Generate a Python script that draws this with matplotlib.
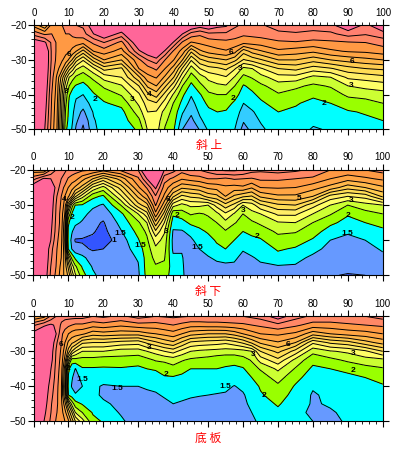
import matplotlib

matplotlib.use("Agg")

import numpy as np
from matplotlib import pyplot as plt
from matplotlib.colors import ListedColormap, BoundaryNorm

plt.rcParams["font.family"] = ["Liberation Sans", "Noto Sans CJK SC", "DejaVu Sans"]

W, H = 393, 449

stations = [0, 3, 5, 6.5, 8, 9, 10, 11, 12, 14, 17, 20, 25, 30, 32.5, 35, 37.5, 40, 42.5, 45, 47.5, 50, 52.5, 55,
            57.5, 60, 62.5, 65, 70, 75, 80, 85, 90, 95, 100]
depths = [-20, -22.5, -25, -27.5, -30, -32.5, -35, -37.5, -40, -42.5, -45, -47.5, -50]
levels = [0.5, 1, 1.5, 2, 2.5, 3, 3.5, 4, 4.5, 5, 5.5, 6, 6.5, 7, 7.5]
upper_colors = ["#00FFFF", "#99FF00", "#CCFF33", "#FFFF66", "#FFEE66", "#FFDD55", "#FFCC50",
                "#FFB84A", "#FFA544", "#FF9944", "#FF8866", "#FF8070", "#FF6699"]

# one line per station, upper to lower depth
upper_z = [
    [5.8, 6.8, 7.9, 8.5, 8.6, 8.7, 8.8, 8.8, 8.8, 8.8, 8.8, 8.8, 8.8],
    [5.0, 6.4, 7.6, 8.2, 8.2, 8.2, 8.1, 8.0, 7.9, 7.8, 7.7, 7.6, 7.5],
    [6.2, 6.5, 6.9, 6.9, 6.9, 6.8, 6.7, 6.6, 6.5, 6.45, 6.4, 6.35, 6.3],
    [6.35, 6.4, 6.4, 6.4, 6.35, 6.2, 5.9, 5.8, 5.75, 5.65, 5.6, 5.55, 5.5],
    [6.5, 6.45, 6.3, 6.2, 6.05, 5.6, 4.7, 4.3, 4.0, 3.9, 3.8, 3.7, 3.6],
    [6.7, 6.5, 6.3, 6.15, 5.8, 4.9, 3.8, 3.2, 2.8, 2.6, 2.4, 2.3, 2.1],
    [6.9, 6.5, 6.3, 6.05, 5.4, 4.2, 3.0, 2.5, 2.05, 1.9, 1.85, 1.8, 1.75],
    [6.9, 6.6, 6.3, 5.8, 4.9, 3.7, 2.7, 2.1, 1.8, 1.7, 1.6, 1.5, 1.4],
    [7.0, 6.7, 6.25, 5.5, 4.2, 3.1, 2.4, 1.95, 1.6, 1.4, 1.2, 1.1, 0.9],
    [7.1, 6.8, 6.15, 4.8, 3.55, 2.75, 2.2, 1.85, 1.5, 1.2, 0.9, 0.6, 0.4],
    [7.9, 7.5, 6.6, 6.0, 4.7, 3.4, 2.65, 2.2, 1.95, 1.75, 1.55, 1.45, 1.4],
    [8.9, 8.0, 7.0, 6.25, 5.5, 4.2, 3.2, 2.6, 2.2, 1.95, 1.85, 1.75, 1.7],
    [8.3, 7.3, 6.35, 5.8, 5.0, 3.9, 3.5, 2.95, 2.55, 2.15, 1.85, 1.75, 1.65],
    [9.5, 8.9, 8.1, 7.4, 6.4, 6.0, 4.9, 4.0, 3.4, 3.1, 2.75, 2.4, 2.1],
    [9.8, 9.3, 8.8, 7.9, 7.0, 6.3, 5.85, 5.1, 4.35, 3.75, 3.5, 3.25, 3.05],
    [9.9, 9.5, 9.1, 8.3, 7.3, 6.6, 6.05, 5.5, 4.75, 3.95, 3.45, 3.3, 3.2],
    [9.7, 9.1, 8.4, 7.4, 6.5, 6.0, 5.4, 4.6, 3.8, 3.25, 2.8, 2.6, 2.45],
    [9.5, 8.5, 7.4, 6.4, 6.0, 5.25, 4.5, 3.65, 2.9, 2.45, 2.3, 2.2, 2.05],
    [8.5, 7.5, 6.4, 5.8, 5.0, 3.9, 3.1, 2.5, 2.1, 1.85, 1.55, 1.25, 1.0],
    [8.1, 6.8, 5.95, 4.6, 3.55, 2.75, 2.25, 1.85, 1.55, 1.3, 1.1, 0.85, 0.6],
    [7.8, 6.6, 6.1, 5.4, 4.4, 3.5, 2.75, 2.35, 1.95, 1.8, 1.6, 1.4, 1.05],
    [8.0, 6.9, 6.2, 5.7, 4.7, 3.8, 3.15, 2.75, 2.4, 2.1, 1.9, 1.75, 1.6],
    [7.7, 6.9, 6.3, 5.85, 4.85, 3.9, 3.3, 2.9, 2.5, 2.2, 2.0, 1.85, 1.7],
    [7.6, 6.9, 6.35, 5.95, 5.0, 4.1, 3.45, 2.95, 2.5, 2.2, 1.95, 1.8, 1.7],
    [7.1, 6.75, 6.3, 5.7, 4.65, 3.55, 2.95, 2.5, 2.2, 1.9, 1.75, 1.65, 1.5],
    [6.9, 6.6, 6.15, 4.7, 3.95, 2.85, 2.35, 1.95, 1.75, 1.5, 1.3, 1.05, 0.8],
    [6.95, 6.65, 6.2, 5.2, 4.2, 3.0, 2.55, 2.15, 1.9, 1.7, 1.45, 1.3, 1.15],
    [6.95, 6.7, 6.25, 5.45, 4.45, 3.45, 2.8, 2.4, 2.15, 1.9, 1.7, 1.55, 1.4],
    [7.2, 6.9, 6.4, 5.9, 5.0, 4.0, 3.3, 2.75, 2.45, 2.25, 2.0, 1.9, 1.8],
    [7.25, 6.95, 6.45, 5.75, 5.0, 4.15, 3.3, 2.6, 2.3, 2.05, 1.9, 1.8, 1.72],
    [7.25, 6.85, 6.35, 5.6, 4.7, 3.75, 2.85, 2.4, 2.1, 1.85, 1.7, 1.6, 1.45],
    [7.35, 6.9, 6.4, 5.9, 5.0, 3.95, 3.0, 2.55, 2.25, 2.0, 1.85, 1.75, 1.55],
    [8.0, 7.2, 6.45, 6.05, 5.2, 4.3, 3.6, 3.0, 2.6, 2.25, 1.95, 1.85, 1.75],
    [7.35, 7.05, 6.5, 6.1, 5.35, 4.5, 3.7, 3.15, 2.7, 2.3, 2.05, 1.9, 1.8],
    [8.0, 7.3, 6.7, 6.25, 5.5, 4.6, 3.85, 3.25, 2.8, 2.5, 2.2, 2.0, 1.85],
]

lower_z = [
    [5.7, 6.8, 8.0, 8.3, 8.4, 8.4, 8.4, 8.4, 8.4, 8.4, 8.4, 8.4, 8.4],
    [5.5, 7.6, 8.0, 8.2, 8.2, 8.2, 8.2, 8.2, 8.2, 8.2, 8.2, 8.1, 8.0],
    [6.5, 7.5, 7.9, 8.0, 7.9, 7.8, 7.7, 7.6, 7.5, 7.2, 7.1, 7.0, 6.9],
    [7.0, 7.4, 7.4, 7.1, 7.0, 6.95, 6.9, 6.85, 6.7, 6.6, 6.55, 6.5, 6.4],
    [7.1, 7.0, 6.7, 6.5, 6.4, 6.3, 6.3, 6.2, 6.15, 6.05, 6.0, 5.85, 5.75],
    [7.1, 6.8, 6.4, 6.0, 5.8, 5.5, 5.2, 5.1, 5.0, 5.2, 5.3, 5.35, 5.4],
    [6.9, 6.45, 6.0, 5.6, 4.2, 3.0, 2.1, 1.9, 1.8, 2.0, 3.6, 4.4, 4.9],
    [6.8, 6.3, 5.7, 5.0, 2.8, 2.0, 1.7, 1.55, 1.4, 1.5, 2.4, 3.3, 3.9],
    [6.7, 6.2, 5.4, 4.1, 2.0, 1.8, 1.6, 1.3, 0.95, 1.2, 1.9, 2.6, 3.1],
    [6.6, 5.7, 4.8, 3.2, 1.95, 1.65, 1.45, 1.2, 0.95, 1.1, 1.65, 1.95, 2.2],
    [6.5, 5.0, 3.4, 2.15, 1.6, 1.35, 1.15, 1.05, 0.9, 0.95, 1.2, 1.45, 1.6],
    [6.2, 4.3, 2.8, 1.9, 1.45, 1.2, 0.95, 0.85, 0.75, 1.0, 1.05, 1.2, 1.3],
    [6.6, 5.2, 4.2, 3.4, 2.5, 1.85, 1.65, 1.45, 1.25, 1.2, 1.2, 1.2, 1.2],
    [7.0, 6.4, 5.9, 5.1, 4.3, 3.0, 2.4, 2.15, 1.95, 1.75, 1.55, 1.45, 1.4],
    [8.5, 7.5, 6.55, 5.85, 4.8, 3.8, 3.0, 2.6, 2.4, 2.25, 2.2, 2.2, 2.15],
    [9.5, 8.6, 7.6, 6.95, 6.55, 5.85, 4.85, 3.9, 3.2, 2.9, 2.65, 2.45, 2.25],
    [7.5, 6.7, 6.3, 5.9, 5.2, 4.3, 3.5, 3.05, 2.85, 2.7, 2.55, 2.4, 2.2],
    [7.2, 6.4, 5.6, 4.6, 3.2, 2.1, 1.7, 1.45, 1.35, 1.4, 1.6, 1.75, 1.8],
    [6.7, 6.05, 5.1, 3.85, 2.85, 2.25, 1.8, 1.45, 1.4, 1.45, 1.55, 1.6, 1.65],
    [7.0, 6.2, 5.2, 4.1, 3.1, 2.55, 2.1, 1.65, 1.4, 1.3, 1.15, 1.1, 1.05],
    [7.0, 6.3, 5.35, 4.2, 3.1, 2.45, 2.15, 1.9, 1.7, 1.5, 1.3, 1.2, 1.15],
    [7.2, 6.5, 5.6, 4.7, 3.0, 2.55, 2.35, 2.05, 1.85, 1.7, 1.45, 1.3, 1.2],
    [7.5, 6.5, 5.7, 4.85, 3.7, 2.85, 2.5, 2.25, 2.05, 1.9, 1.6, 1.35, 1.2],
    [7.6, 6.4, 5.9, 5.5, 4.3, 3.4, 2.85, 2.45, 2.2, 2.0, 1.65, 1.4, 1.25],
    [7.6, 6.55, 5.8, 4.9, 3.85, 2.95, 2.55, 2.2, 2.0, 1.8, 1.6, 1.4, 1.2],
    [7.5, 6.5, 5.9, 4.6, 3.0, 2.5, 2.3, 2.0, 1.75, 1.55, 1.35, 1.25, 1.15],
    [7.2, 6.45, 5.55, 4.45, 3.25, 2.85, 2.4, 2.1, 1.9, 1.7, 1.45, 1.3, 1.2],
    [7.1, 6.6, 6.0, 5.1, 3.9, 3.0, 2.6, 2.2, 1.95, 1.75, 1.6, 1.4, 1.3],
    [7.2, 6.6, 6.05, 5.4, 4.4, 3.6, 2.95, 2.6, 2.3, 2.05, 1.85, 1.45, 1.3],
    [7.1, 6.5, 6.0, 5.4, 4.5, 3.6, 3.0, 2.55, 2.2, 1.95, 1.65, 1.45, 1.3],
    [6.9, 6.4, 5.7, 5.0, 3.7, 3.0, 2.5, 2.2, 1.95, 1.65, 1.4, 1.3, 1.2],
    [6.5, 6.0, 5.3, 3.8, 3.0, 2.55, 2.1, 1.8, 1.5, 1.35, 1.25, 1.2, 1.05],
    [6.4, 5.7, 4.7, 3.5, 2.5, 2.05, 1.85, 1.55, 1.4, 1.3, 1.25, 1.2, 0.95],
    [6.5, 5.9, 5.0, 3.7, 2.8, 2.3, 2.0, 1.7, 1.5, 1.35, 1.3, 1.2, 1.0],
    [6.7, 6.1, 5.4, 4.6, 3.0, 2.5, 2.15, 1.9, 1.7, 1.55, 1.4, 1.3, 1.2],
]

floor_z = [
    [5.5, 6.9, 7.7, 8.5, 8.5, 8.5, 8.5, 8.5, 8.5, 8.5, 8.5, 8.5, 8.5],
    [5.8, 7.4, 8.1, 8.4, 8.4, 8.3, 8.2, 8.1, 8.0, 7.9, 7.8, 7.65, 7.5],
    [6.6, 7.6, 8.0, 8.0, 7.8, 7.7, 7.5, 7.4, 7.25, 7.15, 7.05, 7.0, 6.9],
    [7.0, 7.4, 7.5, 7.1, 6.95, 6.9, 6.85, 6.8, 6.75, 6.7, 6.65, 6.55, 6.45],
    [7.2, 6.9, 6.6, 6.5, 6.4, 6.3, 6.2, 6.1, 6.0, 6.0, 6.1, 6.2, 6.3],
    [7.2, 6.7, 6.3, 6.0, 5.7, 5.3, 4.7, 4.5, 4.4, 4.5, 5.2, 5.7, 6.0],
    [7.2, 6.6, 6.0, 5.4, 4.8, 3.5, 2.1, 1.95, 1.8, 2.0, 3.9, 4.9, 5.6],
    [7.2, 6.5, 5.8, 5.1, 4.0, 2.2, 1.75, 1.55, 1.45, 1.75, 2.8, 4.0, 4.8],
    [7.2, 6.4, 5.7, 4.9, 3.5, 2.3, 1.48, 1.3, 1.3, 1.55, 2.2, 3.0, 4.0],
    [7.2, 6.4, 5.6, 4.1, 3.0, 2.3, 1.95, 1.65, 1.5, 1.7, 1.95, 2.5, 3.2],
    [7.0, 6.2, 5.2, 4.0, 3.0, 2.3, 1.95, 1.7, 1.6, 1.65, 1.8, 1.95, 2.15],
    [7.1, 6.3, 5.3, 4.0, 3.0, 2.2, 1.95, 1.7, 1.45, 1.4, 1.6, 1.8, 1.95],
    [6.9, 6.1, 5.2, 3.8, 2.75, 2.3, 1.95, 1.7, 1.5, 1.4, 1.35, 1.45, 1.6],
    [7.2, 6.3, 5.2, 3.7, 2.75, 2.2, 1.9, 1.7, 1.5, 1.4, 1.3, 1.25, 1.2],
    [7.1, 6.3, 5.4, 4.1, 3.0, 2.35, 2.0, 1.75, 1.55, 1.42, 1.32, 1.25, 1.2],
    [7.0, 6.3, 5.5, 4.4, 3.2, 2.55, 2.05, 1.8, 1.6, 1.45, 1.35, 1.25, 1.2],
    [7.05, 6.4, 5.65, 4.7, 3.5, 2.6, 2.2, 1.95, 1.7, 1.55, 1.4, 1.3, 1.25],
    [7.1, 6.5, 5.8, 4.9, 3.7, 2.7, 2.35, 1.95, 1.75, 1.65, 1.5, 1.35, 1.3],
    [7.05, 6.35, 5.5, 4.4, 3.3, 2.55, 2.15, 1.9, 1.7, 1.6, 1.45, 1.33, 1.27],
    [7.0, 6.2, 5.2, 3.9, 3.0, 2.4, 2.0, 1.8, 1.65, 1.55, 1.4, 1.3, 1.25],
    [7.0, 6.2, 5.1, 3.8, 2.9, 2.35, 2.0, 1.85, 1.67, 1.52, 1.38, 1.28, 1.22],
    [7.0, 6.25, 5.0, 3.75, 2.85, 2.3, 2.0, 1.85, 1.7, 1.5, 1.35, 1.25, 1.2],
    [7.0, 6.25, 5.0, 3.7, 2.8, 2.2, 2.0, 1.85, 1.65, 1.47, 1.35, 1.25, 1.2],
    [7.0, 6.3, 5.0, 3.6, 2.75, 2.15, 1.95, 1.8, 1.6, 1.45, 1.35, 1.25, 1.2],
    [7.0, 6.35, 5.2, 3.8, 2.75, 2.15, 1.9, 1.7, 1.48, 1.42, 1.38, 1.3, 1.25],
    [7.0, 6.4, 5.5, 4.1, 2.8, 2.3, 1.95, 1.85, 1.6, 1.45, 1.4, 1.35, 1.3],
    [7.1, 6.5, 5.8, 4.6, 3.0, 2.55, 2.3, 2.0, 1.8, 1.7, 1.6, 1.5, 1.45],
    [7.2, 6.6, 6.0, 5.1, 4.0, 3.2, 2.55, 2.25, 2.05, 1.95, 1.8, 1.7, 1.55],
    [7.8, 6.85, 6.1, 5.45, 4.65, 3.85, 3.1, 2.7, 2.4, 2.2, 2.05, 1.9, 1.75],
    [7.2, 6.6, 5.9, 5.0, 3.8, 2.85, 2.45, 2.15, 1.95, 1.85, 1.75, 1.65, 1.55],
    [6.9, 6.3, 5.2, 3.6, 2.65, 2.15, 1.9, 1.75, 1.55, 1.45, 1.45, 1.4, 1.5],
    [6.9, 6.3, 5.5, 4.1, 2.95, 2.35, 2.0, 1.8, 1.7, 1.6, 1.55, 1.45, 1.4],
    [7.0, 6.4, 5.7, 4.3, 3.1, 2.6, 2.1, 1.9, 1.8, 1.7, 1.65, 1.6, 1.55],
    [7.0, 6.5, 5.8, 4.8, 3.4, 2.8, 2.3, 2.0, 1.85, 1.75, 1.7, 1.65, 1.6],
    [7.2, 6.6, 6.0, 5.2, 4.0, 2.85, 2.45, 2.15, 1.95, 1.8, 1.7, 1.65, 1.6],
]

upper_labels = [(10, -28.4, "6"), (9, -39.2, "3"), (17.5, -41.5, "2"), (28, -41.5, "3"), (33, -40, "4"),
                (56.5, -28, "6"), (59, -32.5, "3"), (57, -41, "2"), (83, -42.5, "2"), (91, -30.5, "6"),
                (91, -37.5, "3")]
lower_labels = [(9, -28.5, "4"), (11, -33.5, "2"), (25, -38, "1.5"), (30.5, -41.5, "1.5"), (38, -37.5, "3"),
                (38.5, -28.5, "6"), (41, -33, "2"), (47, -42, "1.5"), (60, -31.5, "3"), (64, -39, "2"),
                (76, -28, "5"), (91, -28.6, "3"), (90, -33, "2"), (90, -38, "1.5"), (23, -40, "1")]
floor_labels = [(8, -28, "6"), (10, -35, "2"), (14, -38, "1.5"), (24, -40.5, "1.5"), (33, -29, "3"),
                (38, -36.5, "2"), (55, -40, "1.5"), (63, -31, "3"), (73, -28, "6"), (91.5, -30.5, "3"),
                (91.5, -35.5, "2"), (66, -42.5, "2")]


def draw_panel(fig, box, z_table, low_colors, labels, caption, caption_y):
    left, top, right, bottom = box
    ax = fig.add_axes([left / W, 1 - bottom / H, (right - left) / W, (bottom - top) / H])
    z = np.array(z_table).T
    bounds = [-10] + levels + [30]
    colors = low_colors + upper_colors
    cmap = ListedColormap(colors)
    norm = BoundaryNorm(bounds, cmap.N)
    ax.contourf(stations, depths, z, levels=bounds, cmap=cmap, norm=norm, antialiased=False)
    ax.contour(stations, depths, z, levels=levels, colors="black", linewidths=0.7, linestyles="solid")
    for x, y, text in labels:
        ax.text(x, y, text, fontsize=6, fontweight="bold", ha="center", va="center", color="black")
    ax.set_xlim(0, 100)
    ax.set_ylim(-50, -20)
    ax.set_xticks(range(0, 101, 10))
    ax.set_xticks(range(0, 101, 2), minor=True)
    ax.set_yticks([-50, -40, -30, -20])
    ax.set_yticks(range(-50, -19, 2), minor=True)
    ax.tick_params(which="major", length=4, width=0.8, top=True, right=True, labelsize=7, pad=1.5,
                   labeltop=True, labelbottom=False)
    ax.tick_params(which="minor", length=2, width=0.6, top=True, right=False)
    fig.text((left + right) / 2 / W, 1 - caption_y / H, caption, color="red", fontsize=8.5, ha="center",
             va="center", family=["Noto Sans CJK SC", "DejaVu Sans"])
    return ax


fig = plt.figure(figsize=(W / 100, H / 100), dpi=100)
draw_panel(fig, (34.3, 25.2, 383, 129.3), upper_z, ["#0000CC", "#6699FF", "#33CCFF"], upper_labels, "斜 上", 146)
draw_panel(fig, (33.3, 170, 382.7, 275.3), lower_z, ["#0000CC", "#3355FF", "#6699FF"], lower_labels, "斜 下", 291)
draw_panel(fig, (33.5, 316.3, 382.7, 421.3), floor_z, ["#0000CC", "#3355FF", "#6699FF"], floor_labels, "底 板", 438)
fig.savefig("out.png", dpi=100)
